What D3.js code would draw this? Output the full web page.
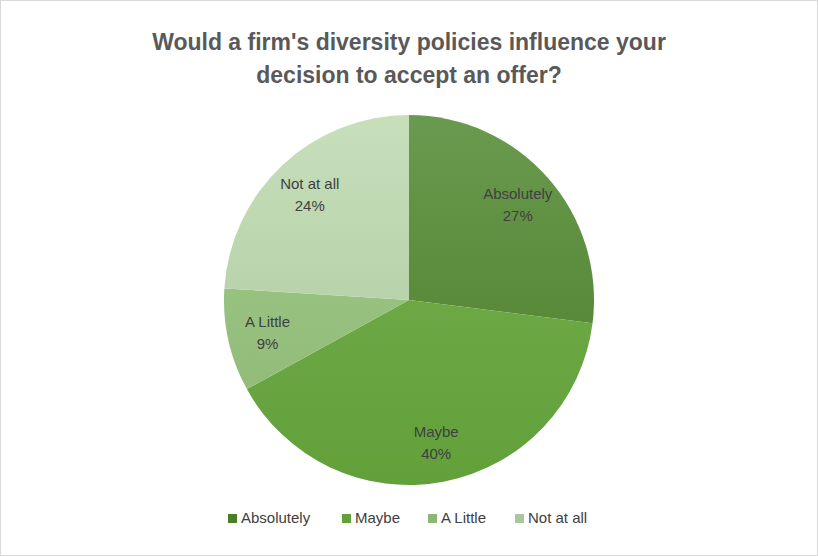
<!DOCTYPE html>
<html><head><meta charset="utf-8">
<script src="https://cdn.jsdelivr.net/npm/d3@7"></script>
<style>body{margin:0;background:#fff}</style></head>
<body><svg id="c" width="818" height="556"></svg>
<script>
const categories=["Absolutely","Maybe","A Little","Not at all"];
const values=[27,40,9,24];
const topColors=["#6a9a4f","#76b150","#a2cc88","#c7dfbb"];
const botColors=["#497d26","#62a03a","#8db676","#a9c79b"];
const svg=d3.select("#c");
svg.append("rect").attr("x",0.5).attr("y",0.5).attr("width",817).attr("height",555).attr("fill","#fff").attr("stroke","#d9d9d9");
const font="'Liberation Sans', 'Open Sans', sans-serif";
const title=["Would a firm's diversity policies influence your","decision to accept an offer?"];
svg.selectAll("text.t").data(title).join("text").attr("x",409).attr("y",(d,i)=>50+i*33)
 .attr("text-anchor","middle").attr("font-family",font).attr("font-weight","bold").attr("font-size",23).attr("fill","#595959").text(d=>d);
const cx=409,cy=300,R=185;
const defs=svg.append("defs");
categories.forEach((c,i)=>{const g=defs.append("linearGradient").attr("id","g"+i).attr("gradientUnits","userSpaceOnUse")
 .attr("x1",0).attr("y1",cy-R).attr("x2",0).attr("y2",cy+R);
 g.append("stop").attr("offset",0).attr("stop-color",topColors[i]);
 g.append("stop").attr("offset",1).attr("stop-color",botColors[i]);});
const pie=d3.pie().sort(null).value(d=>d)(values);
const arc=d3.arc().innerRadius(0).outerRadius(R);
const la=d3.arc().innerRadius(0).outerRadius(290);
const g=svg.append("g").attr("transform",`translate(${cx},${cy})`);
g.selectAll("path").data(pie).join("path").attr("d",arc).attr("fill",(d,i)=>`url(#g${i})`).attr("transform",`translate(0,${-cy})`).attr("transform",null)
 .attr("fill",(d,i)=>`url(#g${i})`);
// gradients use user space of g; adjust via translate
defs.selectAll("linearGradient").attr("y1",-R).attr("y2",R);
const lab=g.selectAll("g.l").data(pie).join("g").attr("transform",d=>{const [x,y]=la.centroid(d);return `translate(${x},${y})`});
lab.append("text").attr("text-anchor","middle").attr("font-family",font).attr("font-size",15).attr("fill","#404040").attr("y",-5).text((d,i)=>categories[i]);
lab.append("text").attr("text-anchor","middle").attr("font-family",font).attr("font-size",15).attr("fill","#404040").attr("y",17).text(d=>d.value+"%");
const lx=[228,342,428,515];
const lg=svg.selectAll("g.lg").data(categories).join("g").attr("transform",(d,i)=>`translate(${lx[i]},523)`);
lg.append("rect").attr("x",0).attr("y",-9).attr("width",9).attr("height",9).attr("fill",(d,i)=>botColors[i]);
lg.append("text").attr("x",13).attr("y",0).attr("font-family",font).attr("font-size",15).attr("fill","#404040").text(d=>d);
</script></body></html>
